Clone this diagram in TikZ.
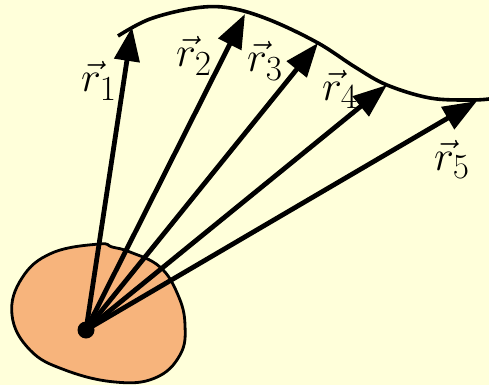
\documentclass[tikz,border=0pt]{standalone}
\usepackage{graphicx}
\usetikzlibrary{arrows.meta}
\definecolor{bgyellow}{RGB}{255,255,218}
\definecolor{blob}{RGB}{247,180,124}
\tikzset{
  vecarrow/.style={line width=4.8pt,-{Triangle[length=34pt,width=25pt]}},
  veclabel/.style={anchor=base west,inner sep=0pt},
}
\newcommand{\biglab}[1]{\scalebox{1.7}{\Huge$\vec{r}_{#1}$}}
\begin{document}
\begin{tikzpicture}[x=1pt,y=-1pt]
\fill[bgyellow] (0,0) rectangle (489,385);
\useasboundingbox (0,0) rectangle (489,385);
% blob
\draw[fill=blob,line width=2.8pt] plot[smooth cycle,tension=0.7] coordinates{
 (99,244) (112,247) (130,252) (160,267) (178,295) (185,325)
 (180,355) (155,378) (115,382) (65,370) (30,350) (12,315)
 (22,278) (52,253)};
% curve
\draw[line width=3.6pt] plot[smooth,tension=0.6] coordinates{
 (118,36) (150,19) (195,8) (230,8) (270,20) (318,43) (355,67) (387,85) (430,98) (470,100) (489,99)};
\coordinate (O) at (86,330);
\coordinate (t1) at (132,27);
\coordinate (t2) at (245,14);
\coordinate (t3) at (318,43);
\coordinate (t4) at (387,85);
\coordinate (t5) at (477,101);
\foreach \t in {t1,t2,t3,t4,t5} \draw[vecarrow] (O) -- (\t);
\fill (O) circle (8.5pt);
\node[veclabel] (r1) at (81,92) {\biglab{1}};
\node[veclabel] (r2) at (176,67) {\biglab{2}};
\node[veclabel] (r3) at (247,72) {\biglab{3}};
\node[veclabel] (r4) at (322,100) {\biglab{4}};
\node[veclabel] (r5) at (434,170) {\biglab{5}};
\end{tikzpicture}
\end{document}
